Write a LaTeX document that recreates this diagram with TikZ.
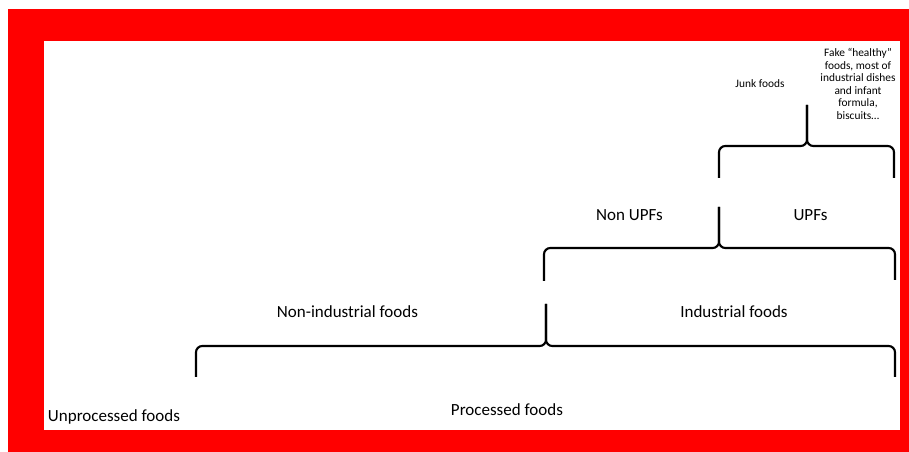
\documentclass[tikz,border=0pt]{standalone}
\usepackage{fontspec}
\setmainfont{Carlito}
\usepackage{tikz}

\tikzset{
    foodbrace/.style={line width=1.5pt, rounded corners=4.5pt},
    bigtext/.style={font=\fontsize{12.1}{14}\selectfont, inner sep=0pt, anchor=base},
    smalltext/.style={font=\fontsize{8.1}{8.9}\selectfont, inner sep=0pt, align=center}
}

\begin{document}
\begin{tikzpicture}[x=0.025cm, y=-0.025cm]

    % Frame
    \useasboundingbox (0,0) rectangle (909,452);
    \fill[white] (0,0) rectangle (909,452);
    \fill[red] (8,9) rectangle (909,452);
    \fill[white] (44,41) rectangle (900,430);

    % Processed foods brace
    \draw[foodbrace] (196,377) -- (196,346) -- (546,346) -- (546,304);
    \draw[foodbrace] (895,377) -- (895,346) -- (546,346) -- (546,304);

    % Industrial foods brace
    \draw[foodbrace] (544,281) -- (544,248) -- (719,248) -- (719,207);
    \draw[foodbrace] (895,280) -- (895,248) -- (719,248) -- (719,207);

    % UPFs brace
    \draw[foodbrace] (719,178) -- (719,146) -- (807,146) -- (807,105);
    \draw[foodbrace] (894,178) -- (894,146) -- (807,146) -- (807,105);

    % Labels
    \node[bigtext] (unproc) at (114,421) {Unprocessed foods};
    \node[bigtext] (proc) at (507,416) {Processed foods};
    \node[bigtext] (nonind) at (347.5,318) {Non-industrial foods};
    \node[bigtext] (ind) at (734,318) {Industrial foods};
    \node[bigtext] (nonupf) at (629.5,221) {Non UPFs};
    \node[bigtext] (upf) at (810.5,221) {UPFs};
    \node[smalltext, anchor=base] (junk) at (760,88) {Junk foods};
    \node[smalltext, anchor=north] (fake) at (858,48) {Fake “healthy”\\foods, most of\\industrial dishes\\and infant\\formula,\\biscuits…};

\end{tikzpicture}
\end{document}
